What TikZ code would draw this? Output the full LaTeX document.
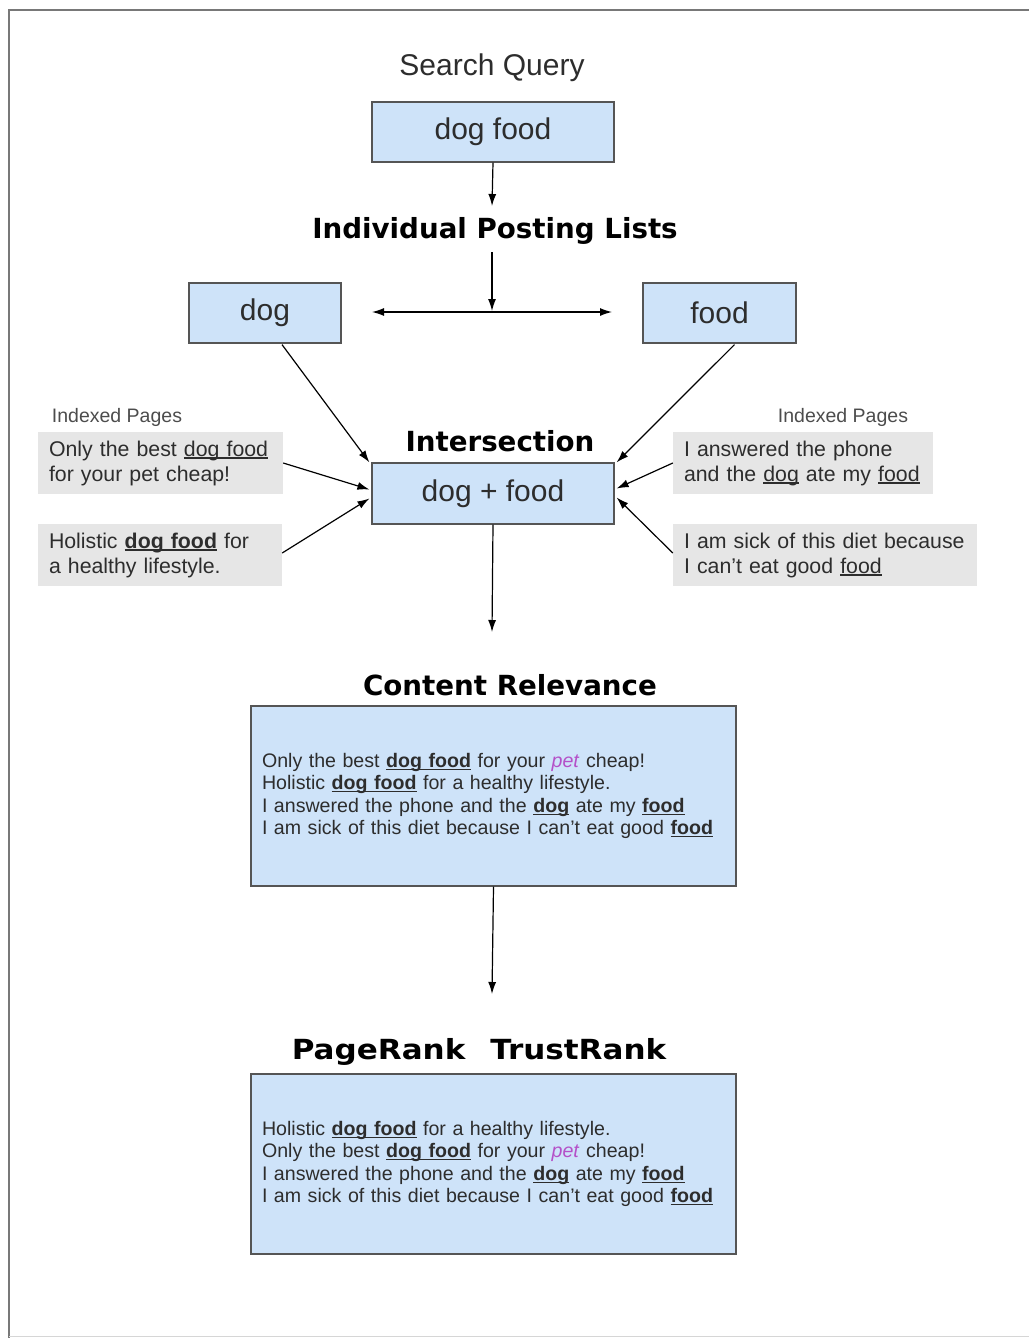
\documentclass[tikz,border=0pt]{standalone}
\usepackage{fontspec}
\usepackage{graphicx}
\setmainfont{Liberation Sans}
\newfontfamily\tfont{DejaVu Sans}
\usetikzlibrary{arrows.meta,calc}
\definecolor{boxblue}{RGB}{206,227,249}
\definecolor{boxgray}{RGB}{230,230,230}
\definecolor{txt}{RGB}{45,45,45}
\definecolor{edge}{RGB}{85,85,85}
\definecolor{petc}{RGB}{180,80,200}
\definecolor{frame}{RGB}{120,120,120}
\newsavebox\ulbox
\newcommand\myul[1]{\sbox\ulbox{#1}\leavevmode\rlap{\rule[-0.13em]{\wd\ulbox}{0.07em}}\usebox\ulbox}
\begin{document}
\begin{tikzpicture}[x=1pt,y=-1pt,
 bluebox/.style={draw=edge,line width=1.2pt,fill=boxblue,inner sep=0pt,font=\fontsize{30}{36}\selectfont,text=txt},
 graybox/.style={fill=boxgray,inner xsep=11pt,inner ysep=0pt,align=left,font=\fontsize{21.3}{25}\selectfont,text=txt},
 titlebold/.style={font=\tfont\bfseries\fontsize{27.7}{32}\selectfont,text=black,inner sep=0pt,anchor=base},
 small/.style={font=\fontsize{19.5}{22}\selectfont,text=txt!85,inner sep=0pt,anchor=base},
 arr/.style={draw=black,line width=1.2pt,-{Latex[length=12pt,width=8pt]}},
 listbox/.style={draw=edge,line width=1.2pt,fill=boxblue,align=left,font=\fontsize{19.6}{22.5}\selectfont,text=txt,inner xsep=11pt,inner ysep=0pt}
]
\useasboundingbox (0,0) rectangle (1029,1338);
% frame
\draw[frame,line width=1.5pt] (9,1338) -- (9,10) -- (1029,10);
\draw[frame!30,line width=1pt] (9,1336) -- (1029,1336);

% titles
\node[font=\fontsize{30}{34}\selectfont,text=txt,inner sep=0pt,anchor=base] (sq) at (492,75) {Search Query};
\node[titlebold] (ipl) at (495,238) {Individual Posting Lists};
\node[titlebold] (ti) at (500,451) {Intersection};
\node[titlebold] (tcr) at (510,695) {Content Relevance};
\node[titlebold] (tpr) at (479,1059) {\scalebox{1.12}[1]{PageRank\hspace{0.8em}TrustRank}};

% blue boxes
\node[bluebox,minimum width=242,minimum height=60] (q) at (493,132) {\raisebox{-2pt}{dog food}};
\node[bluebox,minimum width=152,minimum height=60] (dog) at (265,313) {dog};
\node[bluebox,minimum width=153,minimum height=60] (food) at (719.5,313) {food};
\node[bluebox,minimum width=242,minimum height=61] (inter) at (493,493.5) {dog + food};

% indexed pages
\node[small] (ipl1) at (117,422) {Indexed Pages};
\node[small] (ipr1) at (843,422) {Indexed Pages};

\node[graybox,text width=223,minimum height=62] (l1) at (160.5,463)
 {Only the best \myul{dog food}\\for your pet cheap!};
\node[graybox,text width=222,minimum height=62] (l2) at (160,555)
 {Holistic \myul{\textbf{dog food}} for\\a healthy lifestyle.};
\node[graybox,text width=238,minimum height=62] (r1) at (803,463)
 {I answered the phone\\and the \myul{dog} ate my \myul{food}};
\node[graybox,text width=282,minimum height=62] (r2) at (825,555)
 {I am sick of this diet because\\I can't eat good \myul{food}};

% list boxes
\node[listbox,text width=463,minimum height=180] (cr) at (493.5,796)
 {Only the best \myul{\textbf{dog food}} for your \textcolor{petc}{\textit{pet}} cheap!\\
  Holistic \myul{\textbf{dog food}} for a healthy lifestyle.\\
  I answered the phone and the \myul{\textbf{dog}} ate my \myul{\textbf{food}}\\
  I am sick of this diet because I can't eat good \myul{\textbf{food}}};
\node[listbox,text width=463,minimum height=180] (pr) at (493.5,1164)
 {Holistic \myul{\textbf{dog food}} for a healthy lifestyle.\\
  Only the best \myul{\textbf{dog food}} for your \textcolor{petc}{\textit{pet}} cheap!\\
  I answered the phone and the \myul{\textbf{dog}} ate my \myul{\textbf{food}}\\
  I am sick of this diet because I can't eat good \myul{\textbf{food}}};

% coordinates
\coordinate (qend) at (492,206);
\coordinate (pstart) at (492,252);
\coordinate (hl) at (372,312);
\coordinate (hr) at (612,312);
\coordinate (hm) at (492,311);
\coordinate (a1) at (492,632);
\coordinate (a2) at (492,994);

% connectors
\draw[arr] (q.south) -- (qend);
\draw[arr] (pstart) -- (hm);
\draw[arr,{Latex[length=12pt,width=8pt]}-{Latex[length=12pt,width=8pt]}] (hl) -- (hr);
\draw[arr] ($(dog.south)+(17,1)$) -- ($(inter.north west)+(-2,0)$);
\draw[arr] ($(food.south)+(15,1)$) -- ($(inter.north east)+(2,0)$);
\draw[arr] (l1.east) -- ($(inter.west)+(-2,-4)$);
\draw[arr] ($(l2.east)+(0,-2)$) -- ($(inter.west)+(-2,5)$);
\draw[arr] (r1.west) -- ($(inter.east)+(2,-5)$);
\draw[arr] ($(r2.west)+(0,-2)$) -- ($(inter.east)+(2,4)$);
\draw[arr] (inter.south) -- (a1);
\draw[arr] (cr.south) -- (a2);
\end{tikzpicture}
\end{document}
